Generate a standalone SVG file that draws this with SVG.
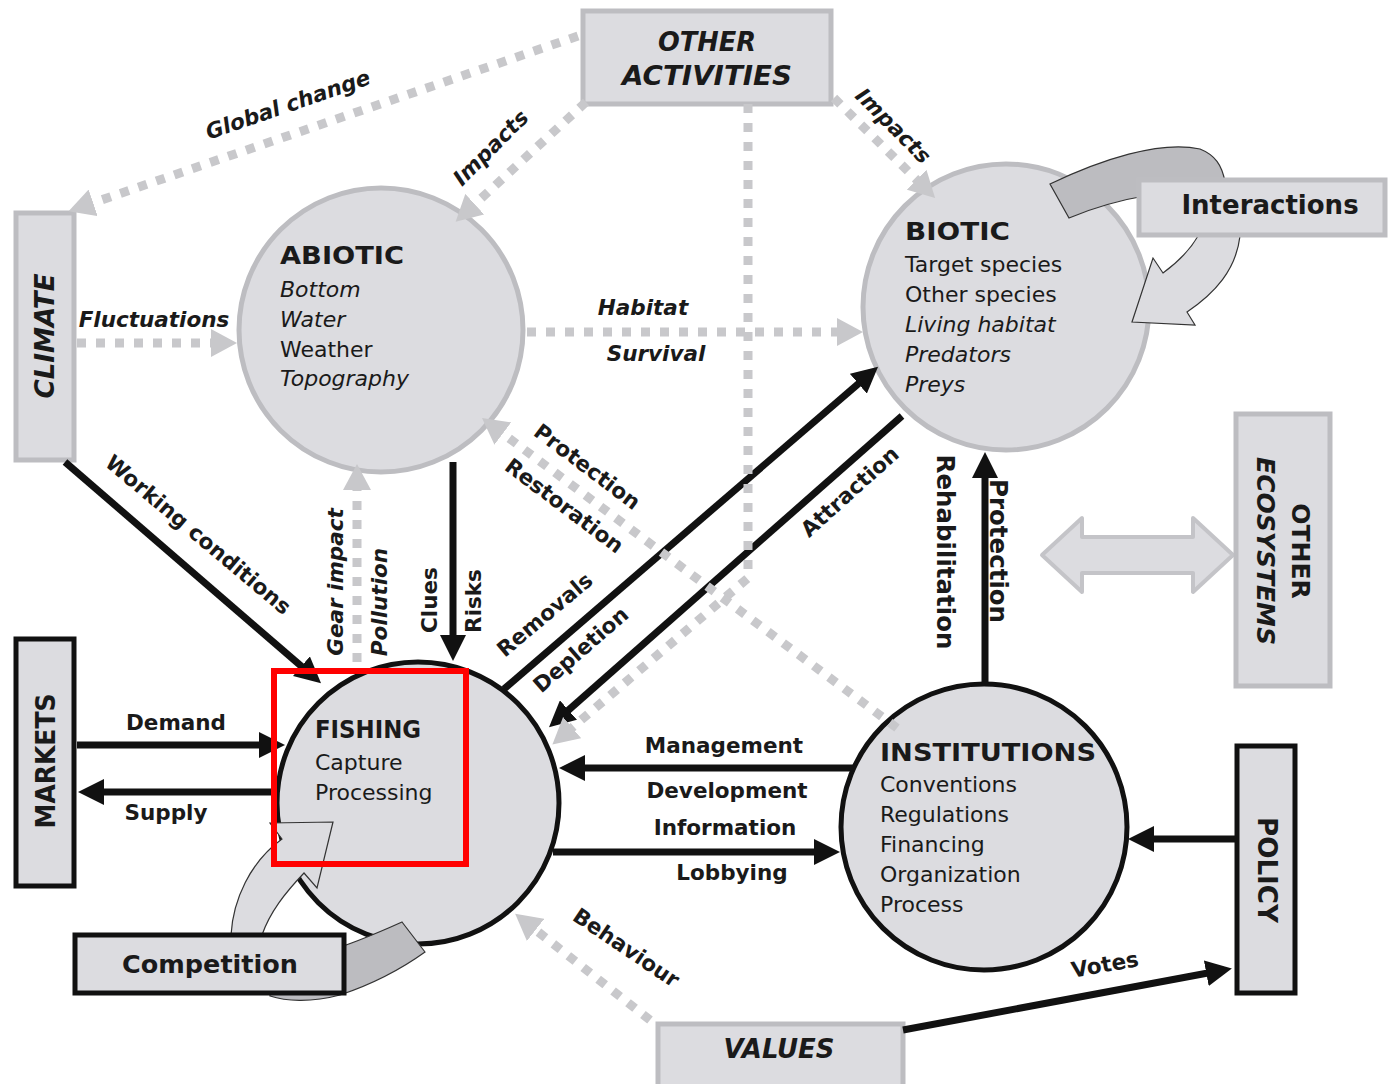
<svg xmlns="http://www.w3.org/2000/svg" width="1388" height="1084" viewBox="0 0 1388 1084">
  <style>
    text { font-family: "DejaVu Sans", Verdana, sans-serif; fill: #1a1a1a; }
    .lbl { font-size: 21.5px; font-weight: bold; }
    .lbli { font-size: 21.5px; font-weight: bold; font-style: italic; }
    .big { font-size: 24.5px; font-weight: bold; }
    .head { font-size: 24px; font-weight: bold; }
    .item { font-size: 22px; }
    .itemi { font-size: 22px; font-style: italic; }
    .bt { font-size: 26px; font-weight: bold; }
    .bti { font-size: 26px; font-weight: bold; font-style: italic; }
    .mid { text-anchor: middle; }
    .node-soft { fill: #dcdce0; stroke: #bdbdc1; stroke-width: 5; }
    .node-hard { fill: #dcdce0; stroke: #111; stroke-width: 5; }
    .solid { fill: none; stroke: #111; stroke-width: 7; marker-end: url(#head-black); }
    .dotted { fill: none; stroke: #c8c8cb; stroke-width: 9; stroke-dasharray: 9 10; marker-end: url(#head-gray); }
  </style>
  <defs>
    <marker id="head-black" viewBox="0 0 26 26" refX="18" refY="13" markerWidth="26" markerHeight="26" markerUnits="userSpaceOnUse" orient="auto">
      <path d="M0,0 L26,13 L0,26 Z" fill="#111"/>
    </marker>
    <marker id="head-gray" viewBox="0 0 26 28" refX="16" refY="14" markerWidth="26" markerHeight="28" markerUnits="userSpaceOnUse" orient="auto">
      <path d="M0,0 L26,14 L0,28 Z" fill="#c8c8cb"/>
    </marker>
  </defs>

  <rect width="1388" height="1084" fill="#ffffff"/>

  <!-- boxes and circles -->
  <g id="other-activities">
    <rect class="node-soft" x="583" y="11" width="248" height="93"/>
    <text class="bti mid" x="707" y="51" textLength="98" lengthAdjust="spacingAndGlyphs">OTHER</text>
    <text class="bti mid" x="707" y="85" textLength="170" lengthAdjust="spacingAndGlyphs">ACTIVITIES</text>
  </g>

  <g id="climate">
    <rect class="node-soft" x="16" y="213" width="58" height="247"/>
    <text class="bti mid" transform="translate(45,336) rotate(-90)" y="9" textLength="125" lengthAdjust="spacingAndGlyphs">CLIMATE</text>
  </g>

  <g id="abiotic">
    <circle class="node-soft" cx="381" cy="330" r="142"/>
    <text class="head" x="280" y="264" textLength="124" lengthAdjust="spacingAndGlyphs">ABIOTIC</text>
    <text class="itemi" x="280" y="297">Bottom</text>
    <text class="itemi" x="280" y="327">Water</text>
    <text class="item" x="280" y="357">Weather</text>
    <text class="itemi" x="280" y="386">Topography</text>
  </g>

  <g id="biotic">
    <circle class="node-soft" cx="1006" cy="307" r="143"/>
    <text class="head" x="905" y="240" textLength="105" lengthAdjust="spacingAndGlyphs">BIOTIC</text>
    <text class="item" x="905" y="272">Target species</text>
    <text class="item" x="905" y="302">Other species</text>
    <text class="itemi" x="905" y="332">Living habitat</text>
    <text class="itemi" x="905" y="362">Predators</text>
    <text class="itemi" x="905" y="392">Preys</text>
  </g>

  <g id="other-ecosystems">
    <path d="M1042,555 L1082,518 L1082,537 L1193,537 L1193,518 L1233,555 L1193,592 L1193,573 L1082,573 L1082,592 Z" fill="#dcdce0" stroke="#c4c4c8" stroke-width="4" stroke-linejoin="round"/>
    <rect class="node-soft" x="1236" y="414" width="94" height="272"/>
    <text class="bt mid" transform="translate(1301,551) rotate(90)" y="9" style="font-size:25px">OTHER</text>
    <text class="bti mid" transform="translate(1266,551) rotate(90)" y="9" style="font-size:25px">ECOSYSTEMS</text>
  </g>

  <g id="fishing">
    <circle class="node-hard" cx="418" cy="803" r="141"/>
    <text class="head" x="315" y="738" textLength="106" lengthAdjust="spacingAndGlyphs">FISHING</text>
    <text class="item" x="315" y="770">Capture</text>
    <text class="item" x="315" y="800">Processing</text>
  </g>

  <g id="institutions">
    <circle class="node-hard" cx="984" cy="827" r="143"/>
    <text class="head" x="880" y="761" textLength="216" lengthAdjust="spacingAndGlyphs">INSTITUTIONS</text>
    <text class="item" x="880" y="792">Conventions</text>
    <text class="item" x="880" y="822">Regulations</text>
    <text class="item" x="880" y="852">Financing</text>
    <text class="item" x="880" y="882">Organization</text>
    <text class="item" x="880" y="912">Process</text>
  </g>

  <g id="markets">
    <rect class="node-hard" x="16" y="639" width="58" height="247"/>
    <text class="bt mid" transform="translate(46,761) rotate(-90)" y="9" textLength="135" lengthAdjust="spacingAndGlyphs">MARKETS</text>
  </g>

  <g id="policy">
    <rect class="node-hard" x="1237" y="746" width="58" height="247"/>
    <text class="bt mid" transform="translate(1267,870) rotate(90)" y="9" textLength="106" lengthAdjust="spacingAndGlyphs">POLICY</text>
  </g>

  <g id="values">
    <rect class="node-soft" x="658" y="1024" width="245" height="70"/>
    <text class="bti mid" x="779" y="1058" textLength="111" lengthAdjust="spacingAndGlyphs">VALUES</text>
  </g>

  <!-- links between the parts of the system -->
  <g id="connectors">
    <!-- solid black flows -->
    <line class="solid" x1="65" y1="462" x2="315" y2="678"/>
    <line class="solid" x1="453" y1="462" x2="453" y2="653"/>
    <line class="solid" x1="504" y1="689" x2="872" y2="372"/>
    <line class="solid" x1="902" y1="416" x2="555" y2="722"/>
    <line class="solid" x1="985" y1="684" x2="985" y2="460"/>
    <line class="solid" x1="77" y1="745" x2="277" y2="745"/>
    <line class="solid" x1="277" y1="792" x2="86" y2="792"/>
    <line class="solid" x1="853" y1="768" x2="567" y2="768"/>
    <line class="solid" x1="553" y1="852" x2="832" y2="852"/>
    <line class="solid" x1="1235" y1="839" x2="1136" y2="839"/>
    <line class="solid" x1="903" y1="1030" x2="1224" y2="970"/>

    <!-- dotted grey influences -->
    <line class="dotted" x1="578" y1="36" x2="78" y2="208"/>
    <line class="dotted" x1="586" y1="102" x2="463" y2="215"/>
    <line class="dotted" x1="834" y1="98" x2="928" y2="191"/>
    <path class="dotted" d="M748,104 L748,578 L560,738"/>
    <line class="dotted" x1="77" y1="343" x2="227" y2="343"/>
    <line class="dotted" x1="527" y1="332" x2="853" y2="332"/>
    <line class="dotted" x1="897" y1="728" x2="490" y2="424"/>
    <line class="dotted" x1="357" y1="662" x2="357" y2="474"/>
    <line class="dotted" x1="650" y1="1020" x2="523" y2="920"/>

    <!-- labels -->
    <text class="lbli mid" transform="translate(288,105) rotate(-19)" y="7">Global change</text>
    <text class="lbli mid" transform="translate(491,148) rotate(-45)" y="7">Impacts</text>
    <text class="lbli mid" transform="translate(893,126) rotate(45)" y="7">Impacts</text>
    <text class="lbli mid" x="154" y="327">Fluctuations</text>
    <text class="lbli mid" x="643" y="315">Habitat</text>
    <text class="lbli mid" x="656" y="361">Survival</text>
    <text class="lbl mid" transform="translate(198,535) rotate(40)" y="7">Working conditions</text>
    <text class="lbli mid" transform="translate(336,582) rotate(-90)" y="7">Gear impact</text>
    <text class="lbli mid" transform="translate(380,602) rotate(-90)" y="7">Pollution</text>
    <text class="lbl mid" transform="translate(430,600) rotate(-90)" y="7">Clues</text>
    <text class="lbl mid" transform="translate(474,601) rotate(-90)" y="7">Risks</text>
    <text class="lbl mid" transform="translate(587,467) rotate(37)" y="7">Protection</text>
    <text class="lbl mid" transform="translate(564,506) rotate(37)" y="7">Restoration</text>
    <text class="lbl mid" transform="translate(545,615) rotate(-40)" y="7">Removals</text>
    <text class="lbl mid" transform="translate(581,650) rotate(-41)" y="7">Depletion</text>
    <text class="lbl mid" transform="translate(850,492) rotate(-42)" y="7">Attraction</text>
    <text class="big mid" transform="translate(945,552) rotate(90)" y="8">Rehabilitation</text>
    <text class="big mid" transform="translate(998,551) rotate(90)" y="8">Protection</text>
    <text class="lbl mid" x="176" y="730">Demand</text>
    <text class="lbl mid" x="166" y="820">Supply</text>
    <text class="lbl mid" x="724" y="753">Management</text>
    <text class="lbl mid" x="727" y="798">Development</text>
    <text class="lbl mid" x="725" y="835">Information</text>
    <text class="lbl mid" x="732" y="880">Lobbying</text>
    <text class="lbl mid" transform="translate(626,948) rotate(34)" y="7">Behaviour</text>
    <text class="lbl mid" transform="translate(1105,965) rotate(-10)" y="7">Votes</text>
  </g>

  <!-- self-loop around BIOTIC -->
  <g id="interactions">
    <path d="M1050,184 C1100,160 1160,140 1200,149 C1215,155 1222,165 1225,182 L1150,195 C1120,200 1095,207 1069,218 Z" fill="#bcbcc0" stroke="#333" stroke-width="1.2"/>
    <path d="M1198,236 C1190,250 1178,262 1163,273 L1153,258 L1132,322 L1195,325 L1187,312 C1215,293 1236,270 1240,236 Z" fill="#dcdce0" stroke="#333" stroke-width="1.2"/>
    <rect class="node-soft" x="1139" y="180" width="246" height="55"/>
    <text class="bt mid" x="1270" y="214">Interactions</text>
  </g>

  <!-- self-loop around FISHING -->
  <g id="competition">
    <path d="M402,922 L425,952 C400,970 370,985 340,995 C310,1003 285,1001 270,996 L270,960 C300,962 340,950 402,922 Z" fill="#bcbcc0" stroke="#333" stroke-width="1.2"/>
    <path d="M231,935 C233,900 250,862 282,839 L270,823 L333,822 L317,888 L304,873 C285,893 270,912 262,935 Z" fill="#dcdce0" stroke="#333" stroke-width="1.2"/>
    <rect class="node-hard" x="75" y="935" width="269" height="58"/>
    <text class="bt mid" x="210" y="973" style="font-size:25.5px">Competition</text>
  </g>

  <!-- highlight frame -->
  <rect x="274" y="671" width="192" height="193" fill="none" stroke="#ff0000" stroke-width="6"/>
</svg>
